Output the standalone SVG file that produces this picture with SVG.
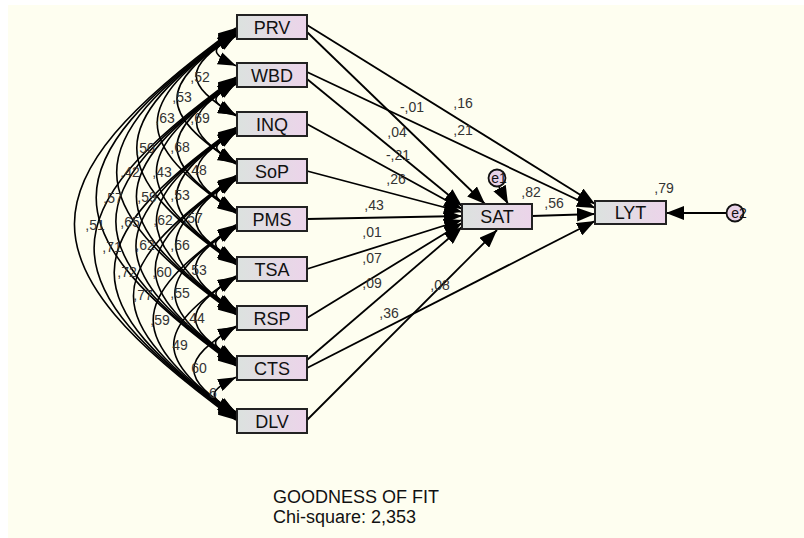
<svg xmlns="http://www.w3.org/2000/svg" width="804" height="538" viewBox="0 0 804 538">
<defs>
<linearGradient id="g" x1="0" y1="0" x2="1" y2="0">
<stop offset="0" stop-color="#dce2df"/>
<stop offset="1" stop-color="#ecd4ea"/>
</linearGradient>
<marker id="ah" markerUnits="userSpaceOnUse" markerWidth="18" markerHeight="13" refX="18" refY="6.5" orient="auto-start-reverse" viewBox="0 0 18 13">
<path d="M0,0 L18,6.5 L0,13 z" fill="#000"/>
</marker>
<marker id="ar" markerUnits="userSpaceOnUse" markerWidth="18" markerHeight="14" refX="18" refY="7" orient="auto" viewBox="0 0 18 14">
<path d="M0,0 L18,7 L0,14 z" fill="#000"/>
</marker>
<style>
.n rect{fill:url(#g);stroke:#222;stroke-width:2}
.n text{font-family:"Liberation Sans",Arial,sans-serif;font-size:18px;fill:#111;text-anchor:middle}
.cov path{fill:none;stroke:#000;stroke-width:1.6;marker-start:url(#ah);marker-end:url(#ah)}
.reg line{stroke:#000;stroke-width:1.8;fill:none;marker-end:url(#ar)}
.lb text{font-family:"Liberation Sans",Arial,sans-serif;font-size:14px;fill:#333;text-anchor:middle}
.e circle{fill:#e8d2e8;stroke:#111;stroke-width:1.8}
.e text{font-family:"Liberation Sans",Arial,sans-serif;font-size:14px;fill:#111;text-anchor:middle}
.ft{font-family:"Liberation Sans",Arial,sans-serif;font-size:18px;fill:#111}
</style>
</defs>
<rect x="0" y="0" width="804" height="538" fill="#fff"/>
<rect x="8" y="5" width="796" height="533" fill="#fefef0"/>

<g id="connectors">
<g class="cov">
<path d="M236,36.3 C209.8,48.1 209.8,53.9 236,65.7"/>
<path d="M236,84.3 C209.2,96.5 209.2,102.5 236,114.7"/>
<path d="M236,133.3 C210.3,144.7 210.3,150.3 236,161.7"/>
<path d="M236,180.3 C209.8,192.1 209.8,197.9 236,209.7"/>
<path d="M236,228.3 C208.7,240.9 208.7,247.1 236,259.7"/>
<path d="M236,278.3 C209.2,290.5 209.2,296.5 236,308.7"/>
<path d="M236,327.3 C208.7,339.9 208.7,346.1 236,358.7"/>
<path d="M236,377.3 C207,391.1 207,397.9 236,411.7"/>
<path d="M236,35.1 C183,67.4 183,83.6 236,115.9"/>
<path d="M236,83.1 C183.5,115 183.5,131 236,162.9"/>
<path d="M236,132.1 C184.1,163.6 184.1,179.4 236,210.9"/>
<path d="M236,179.1 C182.4,211.8 182.4,228.2 236,260.9"/>
<path d="M236,227.1 C181.9,260.2 181.9,276.8 236,309.9"/>
<path d="M236,277.1 C181.9,310.2 181.9,326.8 236,359.9"/>
<path d="M236,326.1 C179.7,360.8 179.7,378.2 236,412.9"/>
<path d="M236,33.9 C157.3,86 157.3,112 236,164.1"/>
<path d="M236,81.9 C157.3,134 157.3,160 236,212.1"/>
<path d="M236,130.9 C156.7,183.4 156.7,209.6 236,262.1"/>
<path d="M236,177.9 C155.6,231.2 155.6,257.8 236,311.1"/>
<path d="M236,225.9 C154.5,280 154.5,307 236,361.1"/>
<path d="M236,275.9 C152.9,331.2 152.9,358.8 236,414.1"/>
<path d="M236,32.7 C131,104.9 131,141.1 236,213.3"/>
<path d="M236,80.7 C129.9,153.7 129.9,190.3 236,263.3"/>
<path d="M236,129.7 C129.9,202.7 129.9,239.3 236,312.3"/>
<path d="M236,176.7 C128.3,250.9 128.3,288.1 236,362.3"/>
<path d="M236,224.7 C125.6,300.9 125.6,339.1 236,415.3"/>
<path d="M236,31.5 C103.7,124.7 103.7,171.3 236,264.5"/>
<path d="M236,79.5 C103.2,173.1 103.2,219.9 236,313.5"/>
<path d="M236,128.5 C102.6,222.5 102.6,269.5 236,363.5"/>
<path d="M236,175.5 C99.3,271.9 99.3,320.1 236,416.5"/>
<path d="M236,30.3 C76.9,144.1 76.9,200.9 236,314.7"/>
<path d="M236,78.3 C75.8,192.9 75.8,250.1 236,364.7"/>
<path d="M236,127.3 C73.6,243.5 73.6,301.5 236,417.7"/>
<path d="M236,29.1 C49.6,163.8 49.6,231.2 236,365.9"/>
<path d="M236,77.1 C46.8,213.8 46.8,282.2 236,418.9"/>
<path d="M236,27.9 C20.6,184.8 20.6,263.2 236,420.1"/>
</g>
<g class="reg">
<line x1="307" y1="25" x2="595" y2="204"/>
<line x1="307" y1="32" x2="485" y2="204"/>
<line x1="307" y1="72" x2="595" y2="208"/>
<line x1="307" y1="79" x2="462" y2="206"/>
<line x1="307" y1="124" x2="462" y2="209"/>
<line x1="307" y1="171" x2="462" y2="212"/>
<line x1="307" y1="219" x2="462" y2="216"/>
<line x1="307" y1="269" x2="462" y2="220"/>
<line x1="307" y1="318" x2="462" y2="223"/>
<line x1="307" y1="360" x2="462" y2="227"/>
<line x1="307" y1="368" x2="595" y2="221"/>
<line x1="307" y1="420" x2="497" y2="230"/>
<line x1="532" y1="216" x2="595" y2="214"/>
<line x1="499" y1="187" x2="508" y2="204"/>
<line x1="727" y1="213" x2="666" y2="213"/>
</g>
</g>

<g class="lb" id="labels">
<text x="200" y="82">,52</text>
<text x="182" y="102">,53</text>
<text x="165" y="123">,63</text>
<text x="200" y="123">,69</text>
<text x="145" y="153">,50</text>
<text x="180" y="152">,68</text>
<text x="130" y="177">,42</text>
<text x="162" y="177">,43</text>
<text x="197" y="175">,48</text>
<text x="113" y="203">,57</text>
<text x="147" y="202">,59</text>
<text x="180" y="200">,53</text>
<text x="95" y="230">,51</text>
<text x="130" y="227">,65</text>
<text x="163" y="225">,62</text>
<text x="193" y="223">,57</text>
<text x="112" y="252">,71</text>
<text x="145" y="250">,62</text>
<text x="180" y="250">,66</text>
<text x="127" y="277">,72</text>
<text x="162" y="277">,60</text>
<text x="197" y="275">,53</text>
<text x="143" y="300">,77</text>
<text x="180" y="298">,55</text>
<text x="160" y="325">,59</text>
<text x="195" y="323">,44</text>
<text x="180" y="350">49</text>
<text x="199" y="373">60</text>
<text x="213" y="398">6</text>
<text x="463" y="108">,16</text>
<text x="412" y="112">-,01</text>
<text x="463" y="135">,21</text>
<text x="397" y="137">,04</text>
<text x="398" y="160">-,21</text>
<text x="396" y="184">,26</text>
<text x="374" y="210">,43</text>
<text x="372" y="237">,01</text>
<text x="372" y="263">,07</text>
<text x="372" y="288">,09</text>
<text x="389" y="318">,36</text>
<text x="440" y="290">,08</text>
<text x="531" y="197">,82</text>
<text x="554" y="208">,56</text>
<text x="664" y="193">,79</text>
</g>

<g id="PRV" class="n"><rect x="237" y="15" width="70" height="24"/><text x="272" y="33.5">PRV</text></g>
<g id="WBD" class="n"><rect x="237" y="63" width="70" height="24"/><text x="272" y="81.5">WBD</text></g>
<g id="INQ" class="n"><rect x="237" y="112" width="70" height="24"/><text x="272" y="130.5">INQ</text></g>
<g id="SoP" class="n"><rect x="237" y="159" width="70" height="24"/><text x="272" y="177.5">SoP</text></g>
<g id="PMS" class="n"><rect x="237" y="207" width="70" height="24"/><text x="272" y="225.5">PMS</text></g>
<g id="TSA" class="n"><rect x="237" y="257" width="70" height="24"/><text x="272" y="275.5">TSA</text></g>
<g id="RSP" class="n"><rect x="237" y="306" width="70" height="24"/><text x="272" y="324.5">RSP</text></g>
<g id="CTS" class="n"><rect x="237" y="356" width="70" height="24"/><text x="272" y="374.5">CTS</text></g>
<g id="DLV" class="n"><rect x="237" y="409" width="70" height="24"/><text x="272" y="427.5">DLV</text></g>
<g id="SAT" class="n"><rect x="462" y="204" width="70" height="25"/><text x="497" y="223">SAT</text></g>
<g id="LYT" class="n"><rect x="595" y="201" width="71" height="23"/><text x="630.5" y="219">LYT</text></g>
<g id="e1" class="e"><circle cx="497" cy="178" r="8.5"/><text x="499" y="183">e1</text></g>
<g id="e2" class="e"><circle cx="735" cy="213" r="8.5"/><text x="739" y="218">e2</text></g>

<g id="fit">
<text class="ft" x="273" y="503">GOODNESS OF FIT</text>
<text class="ft" x="273" y="523">Chi-square: 2,353</text>
</g>
</svg>
